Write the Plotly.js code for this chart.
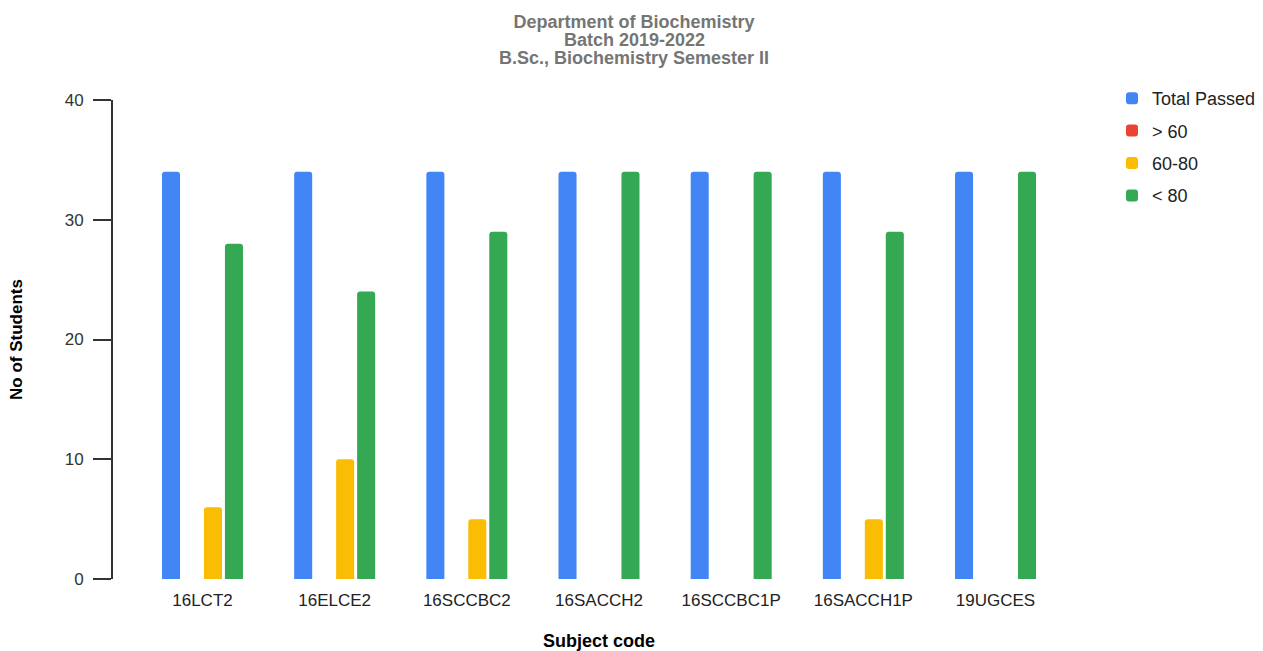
<!DOCTYPE html>
<html>
<head>
<meta charset="utf-8">
<script src="https://cdn.plot.ly/plotly-3.0.1.min.js"></script>
<style>html,body{margin:0;padding:0;background:#fff;}#chart{width:1263px;height:651px;}</style>
</head>
<body>
<div id="chart"></div>
<script>
const subjects = ["16LCT2", "16ELCE2", "16SCCBC2", "16SACCH2", "16SCCBC1P", "16SACCH1P", "19UGCES"];
const totalPassed = [34, 34, 34, 34, 34, 34, 34];
const above60 = [0, 0, 0, 0, 0, 0, 0];
const range60to80 = [6, 10, 5, 0, 0, 5, 0];
const below80 = [28, 24, 29, 34, 34, 29, 34];
const seriesNames = ["Total Passed", "> 60", "60-80", "< 80"];
const yTicks = [0, 10, 20, 30, 40];
const titleLines = ["Department of Biochemistry", "Batch 2019-2022", "B.Sc., Biochemistry Semester II"];

const colors = ["#4285F4", "#EA4335", "#FBBC04", "#34A853"];
const seriesData = [totalPassed, above60, range60to80, below80];
const traces = seriesData.map((vals, i) => ({
  type: "bar",
  name: seriesNames[i],
  x: subjects,
  y: vals,
  legendgroup: "g" + i,
  marker: {color: colors[i], cornerradius: 3, line: {width: 0}},
  hoverinfo: "x+y+name"
}));

const font = "Liberation Sans, Arial, sans-serif";
const titleFont = {family: font, size: 18, color: "#757575"};
const W = 1263, H = 651, L = 113, R = 178, T = 100, B = 72;
const layout = {
  width: W, height: H,
  margin: {l: L, r: R, t: T, b: B},
  paper_bgcolor: "#fff", plot_bgcolor: "#fff",
  font: {family: font, size: 17, color: "#222"},
  title: {
    text: "<b>" + titleLines[0] + "</b>",
    font: titleFont,
    x: 634 / W, xref: "container", xanchor: "center",
    y: 1 - 22 / H, yref: "container", yanchor: "middle"
  },
  annotations: titleLines.slice(1).map((t, i) => ({
    text: "<b>" + t + "</b>",
    font: titleFont,
    showarrow: false,
    xref: "paper", yref: "paper",
    x: (634 - L) / (W - L - R),
    y: 1 + (T - (40 + 18 * i)) / (H - T - B),
    xanchor: "center", yanchor: "middle"
  })),
  barmode: "group",
  bargap: 0.365,
  bargroupgap: 0.14,
  xaxis: {
    type: "category",
    range: [-0.677, 6.677],
    showgrid: false, zeroline: false, showline: false,
    ticks: "", ticklabelstandoff: 9,
    tickfont: {family: font, size: 17, color: "#222"},
    title: {text: "<b>Subject code</b>", font: {family: font, size: 18, color: "#000"}, standoff: 26}
  },
  yaxis: {
    range: [0, 40],
    tickvals: yTicks,
    showgrid: false, zeroline: false,
    showline: true, linecolor: "#333", linewidth: 2,
    ticks: "outside", ticklen: 18, tickwidth: 2, tickcolor: "#333",
    ticklabelstandoff: 6,
    tickfont: {family: font, size: 17, color: "#333"},
    title: {text: "<b>No of Students</b>", font: {family: font, size: 17, color: "#000"}, standoff: 38}
  },
  legend: {
    x: 1112 / W, xref: "container", xanchor: "left",
    y: 1 - 80 / H, yref: "container", yanchor: "top",
    font: {family: font, size: 18, color: "#222"},
    traceorder: "grouped", tracegroupgap: 6,
    itemwidth: 30
  },
  showlegend: true
};

Plotly.newPlot("chart", traces, layout, {displayModeBar: false, staticPlot: true});
</script>
</body>
</html>
